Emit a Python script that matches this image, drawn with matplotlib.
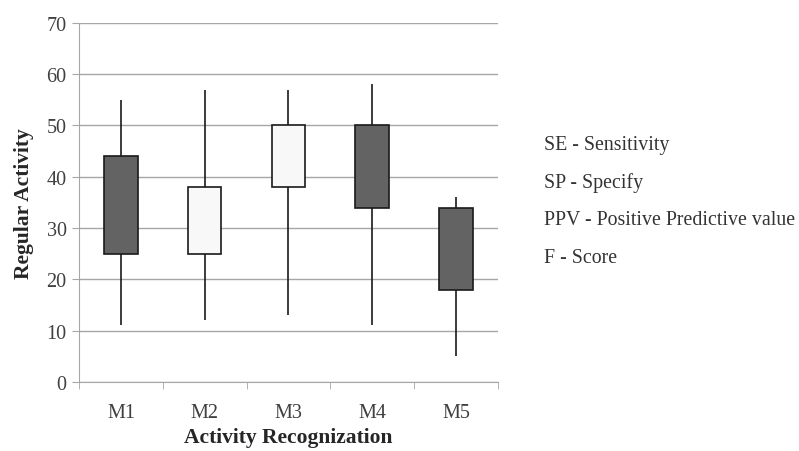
import matplotlib.pyplot as plt
import numpy as np

plt.rcParams['font.family'] = ['Liberation Serif', 'DejaVu Serif']

models = ['M1', 'M2', 'M3', 'M4', 'M5']
box_low = [25, 25, 38, 34, 18]
box_high = [44, 38, 50, 50, 34]
whisk_low = [11, 12, 13, 11, 5]
whisk_high = [55, 57, 57, 58, 36]
dark_box = [True, False, False, True, True]
notes = ['SE - Sensitivity', 'SP - Specify', 'PPV - Positive Predictive value', 'F - Score']

fig = plt.figure(figsize=(7.99, 4.52), dpi=100)
ax = fig.add_axes([0.099, 0.153, 0.524, 0.794])

x = np.arange(len(models))
ax.vlines(x, whisk_low, whisk_high, color='#1a1a1a', lw=1.2, zorder=2)
colors = ['#636363' if d else '#f8f8f8' for d in dark_box]
ax.bar(x, np.array(box_high) - np.array(box_low), bottom=box_low, width=0.4,
       color=colors, edgecolor='#1a1a1a', lw=1.2, zorder=3)

ax.set_xlim(-0.5, len(models) - 0.5)
ax.set_ylim(0, 70)
ax.set_yticks(range(0, 71, 10))
ax.yaxis.grid(True, color='#a6a6a6', lw=1)
ax.set_axisbelow(True)
for s in ['top', 'right']:
    ax.spines[s].set_visible(False)
ax.spines['left'].set_color('#a6a6a6')
ax.spines['bottom'].set_color('#a6a6a6')

ax.set_xticks(x)
ax.set_xticklabels(models)
ax.set_xticks(np.arange(-0.5, len(models)), minor=True)
ax.tick_params(axis='x', which='major', length=0, pad=15, labelsize=14.5, labelcolor='#404040')
ax.tick_params(axis='x', which='minor', length=5, color='#a6a6a6')
ax.tick_params(axis='y', length=5, color='#a6a6a6', labelsize=14.5, labelcolor='#404040', pad=4)

ax.set_xlabel('Activity Recognization', fontsize=15.5, fontweight='bold', color='#262626', labelpad=4)
ax.set_ylabel('Regular Activity', fontsize=15.5, fontweight='bold', color='#262626', labelpad=9)

for i, t in enumerate(notes):
    fig.text(0.681, 0.679 - i * 0.0835, t, fontsize=14.3, color='#333333', va='center')

plt.savefig('out.png')
